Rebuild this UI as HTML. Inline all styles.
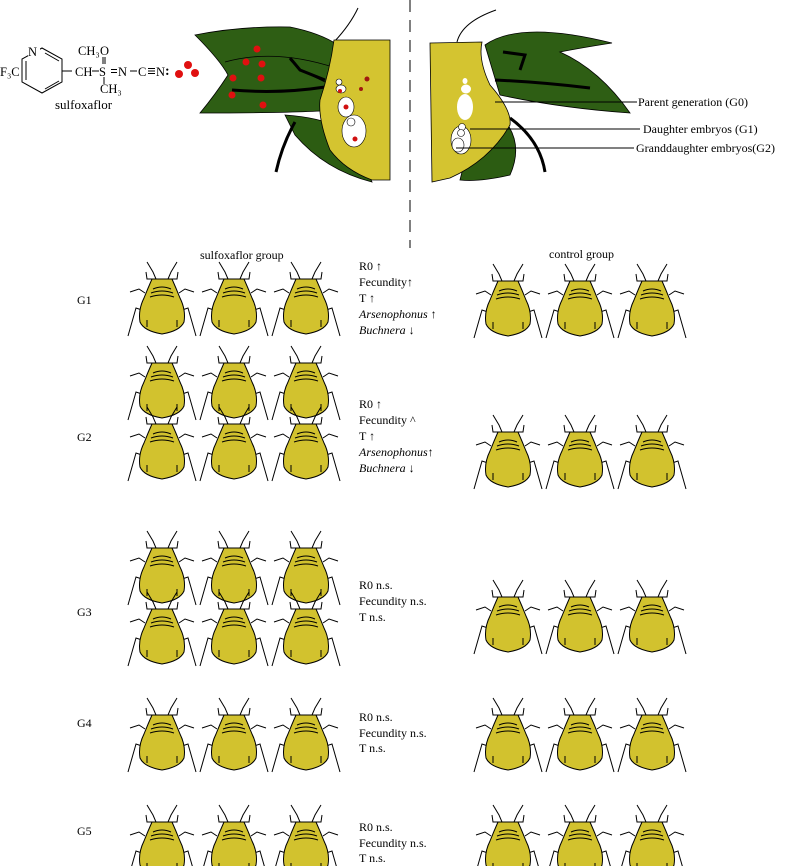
<!DOCTYPE html>
<html><head><meta charset="utf-8"><style>
html,body{margin:0;padding:0;background:#fff;}
svg{display:block;font-family:"Liberation Serif",serif;}
</style></head><body>
<svg width="791" height="866" viewBox="0 0 791 866" xmlns="http://www.w3.org/2000/svg">
<defs>
<symbol id="a" viewBox="-40 -40 80 80" width="80" height="80" overflow="visible">
<g fill="none" stroke="#000" stroke-width="1">
<path d="M-6 -21 L-9 -28 L-15 -38 M6 -21 L9 -28 L15 -38"/>
<path d="M-9 -21 L-15 -21 L-16 -28 M9 -21 L15 -21 L16 -28"/>
<path d="M-17 -7 L-23 -11 L-32 -8 M17 -7 L23 -11 L32 -8"/>
<path d="M-20 10 L-26 8 L-34 36 M20 10 L26 8 L34 36"/>
</g>
<path d="M-10 -21 L10 -21 Q14 -12 18 -2 Q24 10 22 22 Q18 31 0 34 Q-18 31 -22 22 Q-24 10 -18 -2 Q-14 -12 -10 -21 Z" fill="#d2c22e" stroke="#000" stroke-width="1"/>
<g fill="none" stroke="#000" stroke-width="1">
<path d="M-9 -11 Q0 -15 9 -11 M-11 -7 Q0 -11 11 -7 M-12 -3 Q0 -7 12 -3"/>
<path d="M-15 20 L-15 27 M15 20 L15 27"/>
</g>
</symbol>
</defs>

<!-- chemical structure -->
<g stroke="#000" stroke-width="1" fill="none">
<polygon points="42,48 62,59 62,82 42,93 22,82 22,59"/>
<line x1="26" y1="80" x2="26" y2="61"/>
<line x1="45" y1="53" x2="59" y2="61"/>
<line x1="45" y1="89" x2="59" y2="81"/>
<line x1="62" y1="71" x2="72" y2="71"/>
<line x1="92" y1="71" x2="99" y2="71"/>
<line x1="103" y1="57" x2="103" y2="64"/>
<line x1="105" y1="57" x2="105" y2="64"/>
<line x1="104" y1="77" x2="104" y2="84"/>
<line x1="111" y1="69.5" x2="117" y2="69.5"/>
<line x1="111" y1="72.5" x2="117" y2="72.5"/>
<line x1="130" y1="71" x2="137" y2="71"/>
<line x1="148" y1="68.5" x2="155" y2="68.5"/>
<line x1="148" y1="71" x2="155" y2="71"/>
<line x1="148" y1="73.5" x2="155" y2="73.5"/>
</g>
<rect x="28" y="44" width="12" height="12" fill="#fff"/>
<g font-size="12.5" fill="#000">
<text x="28" y="56">N</text>
<text x="0" y="76">F₃C</text>
<text x="78" y="55">CH₃</text>
<text x="100" y="55">O</text>
<text x="75" y="76">CH</text>
<text x="99" y="76">S</text>
<text x="118" y="76">N</text>
<text x="138" y="76">C</text>
<text x="156" y="76">N</text>
<text x="100" y="93">CH₃</text>
<text x="55" y="109" font-size="13">sulfoxaflor</text>
<text x="165" y="75" font-size="14" font-weight="bold">:</text>
</g>
<circle cx="188" cy="65" r="4" fill="#e01010"/>
<circle cx="179" cy="74" r="4" fill="#e01010"/>
<circle cx="195" cy="73" r="4" fill="#e01010"/>

<!-- left plant -->
<path d="M334 42 Q350 25 358 8" stroke="#000" fill="none"/>
<path d="M195 35 Q240 26 290 27 Q320 33 338 45 L336 110 Q300 113 200 113 Q215 95 228 75 Q220 60 195 35 Z" fill="#2e5e14" stroke="#000" stroke-width="0.8"/>
<path d="M225 62 Q275 48 336 68 M232 90 Q280 92 325 87 M290 60 L300 70 L325 82" stroke="#000" stroke-width="0.8" fill="none"/>
<path d="M285 115 Q330 118 352 135 L372 182 Q325 170 295 135 Z" fill="#2c5c12" stroke="#000" stroke-width="0.8"/>
<path d="M232 90 Q280 94 325 87 M290 58 L300 70 L325 80 M295 122 Q282 145 276 172" stroke="#000" stroke-width="3" fill="none"/>
<path d="M334 40 L390 40 L390 180 L372 180 Q345 170 330 150 Q318 120 320 100 Q330 70 334 40 Z" fill="#d4c430" stroke="#000" stroke-width="0.8"/>
<ellipse cx="339" cy="82" rx="3" ry="3" fill="#fff" stroke="#000" stroke-width="0.6"/>
<ellipse cx="341" cy="89" rx="5" ry="4" fill="#fff" stroke="#000" stroke-width="0.6"/>
<ellipse cx="346" cy="107" rx="8" ry="10" fill="#fff" stroke="#000" stroke-width="0.6"/>
<ellipse cx="354" cy="131" rx="12" ry="16" fill="#fff" stroke="#000" stroke-width="0.6"/>
<circle cx="351" cy="122" r="4" fill="#fff" stroke="#000" stroke-width="0.6"/>
<circle cx="340" cy="91" r="2" fill="#d01010"/>
<circle cx="346" cy="107" r="2.5" fill="#d01010"/>
<circle cx="355" cy="139" r="2.5" fill="#d01010"/>
<circle cx="367" cy="79" r="2.5" fill="#a01a10"/>
<circle cx="361" cy="89" r="2" fill="#a01a10"/>
<g fill="#e01010">
<circle cx="257" cy="49" r="3.5"/><circle cx="246" cy="62" r="3.5"/><circle cx="262" cy="64" r="3.5"/>
<circle cx="233" cy="78" r="3.5"/><circle cx="261" cy="78" r="3.5"/><circle cx="232" cy="95" r="3.5"/><circle cx="263" cy="105" r="3.5"/>
</g>

<!-- dashed divider -->
<line x1="410" y1="0" x2="410" y2="248" stroke="#000" stroke-width="1" stroke-dasharray="12,8"/>

<!-- right plant -->
<path d="M457 42 Q462 22 496 10" stroke="#000" fill="none"/>
<path d="M485 45 Q520 20 612 43 Q580 48 560 52 Q600 70 630 113 Q560 108 500 95 Z" fill="#2e5e14" stroke="#000" stroke-width="0.8"/>
<path d="M480 100 Q530 130 510 175 Q480 182 460 180 Z" fill="#2c5c12" stroke="#000" stroke-width="0.8"/>
<path d="M495 80 Q540 82 590 88 M510 118 Q540 140 545 172 M503 52 L525 55 L520 70" stroke="#000" stroke-width="3" fill="none"/>
<path d="M430 43 L482 42 Q478 60 490 85 Q512 110 510 125 Q490 160 450 178 L432 182 Z" fill="#d4c430" stroke="#000" stroke-width="0.8"/>
<ellipse cx="465" cy="81" rx="2.5" ry="3" fill="#fff"/>
<ellipse cx="466" cy="89" rx="5" ry="4.5" fill="#fff"/>
<ellipse cx="465" cy="107" rx="8" ry="13" fill="#fff"/>
<ellipse cx="461" cy="140" rx="10" ry="14" fill="#fff" stroke="#000" stroke-width="0.6"/>
<circle cx="462" cy="127" r="3.5" fill="#fff" stroke="#000" stroke-width="0.6"/>
<circle cx="461" cy="133" r="3.5" fill="#fff" stroke="#000" stroke-width="0.6"/>
<ellipse cx="458" cy="145" rx="6" ry="7" fill="#fff" stroke="#000" stroke-width="0.6"/>
<g stroke="#000" stroke-width="1">
<line x1="495" y1="102" x2="637" y2="102"/>
<line x1="470" y1="129" x2="640" y2="129"/>
<line x1="456" y1="148" x2="634" y2="148"/>
</g>
<g font-size="12" fill="#000">
<text x="638" y="106">Parent generation (G0)</text>
<text x="643" y="133">Daughter embryos (G1)</text>
<text x="636" y="152">Granddaughter embryos(G2)</text>
</g>

<!-- labels -->
<g font-size="12" fill="#000">
<text x="200" y="259">sulfoxaflor group</text>
<text x="549" y="258">control group</text>
<text x="77" y="304">G1</text>
<text x="77" y="441">G2</text>
<text x="77" y="616">G3</text>
<text x="77" y="727">G4</text>
<text x="77" y="835">G5</text>

<text x="359" y="270">R0 ↑</text>
<text x="359" y="286">Fecundity↑</text>
<text x="359" y="302">T ↑</text>
<text x="359" y="318" font-style="italic">Arsenophonus ↑</text>
<text x="359" y="334" font-style="italic">Buchnera ↓</text>

<text x="359" y="408">R0 ↑</text>
<text x="359" y="424">Fecundity ^</text>
<text x="359" y="440">T ↑</text>
<text x="359" y="456" font-style="italic">Arsenophonus↑</text>
<text x="359" y="472" font-style="italic">Buchnera ↓</text>

<text x="359" y="589">R0 n.s.</text>
<text x="359" y="605">Fecundity n.s.</text>
<text x="359" y="621">T n.s.</text>

<text x="359" y="721">R0 n.s.</text>
<text x="359" y="737">Fecundity n.s.</text>
<text x="359" y="752">T n.s.</text>

<text x="359" y="831">R0 n.s.</text>
<text x="359" y="847">Fecundity n.s.</text>
<text x="359" y="862">T n.s.</text>
</g>

<!-- aphids -->
<g>
<use href="#a" x="122" y="260"/><use href="#a" x="194" y="260"/><use href="#a" x="266" y="260"/>
<use href="#a" x="468" y="262"/><use href="#a" x="540" y="262"/><use href="#a" x="612" y="262"/>

<use href="#a" x="122" y="344"/><use href="#a" x="194" y="344"/><use href="#a" x="266" y="344"/>
<use href="#a" x="122" y="405"/><use href="#a" x="194" y="405"/><use href="#a" x="266" y="405"/>
<use href="#a" x="468" y="413"/><use href="#a" x="540" y="413"/><use href="#a" x="612" y="413"/>

<use href="#a" x="122" y="529"/><use href="#a" x="194" y="529"/><use href="#a" x="266" y="529"/>
<use href="#a" x="122" y="590"/><use href="#a" x="194" y="590"/><use href="#a" x="266" y="590"/>
<use href="#a" x="468" y="578"/><use href="#a" x="540" y="578"/><use href="#a" x="612" y="578"/>

<use href="#a" x="122" y="696"/><use href="#a" x="194" y="696"/><use href="#a" x="266" y="696"/>
<use href="#a" x="468" y="696"/><use href="#a" x="540" y="696"/><use href="#a" x="612" y="696"/>

<use href="#a" x="122" y="803"/><use href="#a" x="194" y="803"/><use href="#a" x="266" y="803"/>
<use href="#a" x="468" y="803"/><use href="#a" x="540" y="803"/><use href="#a" x="612" y="803"/>
</g>
</svg>
</body></html>
